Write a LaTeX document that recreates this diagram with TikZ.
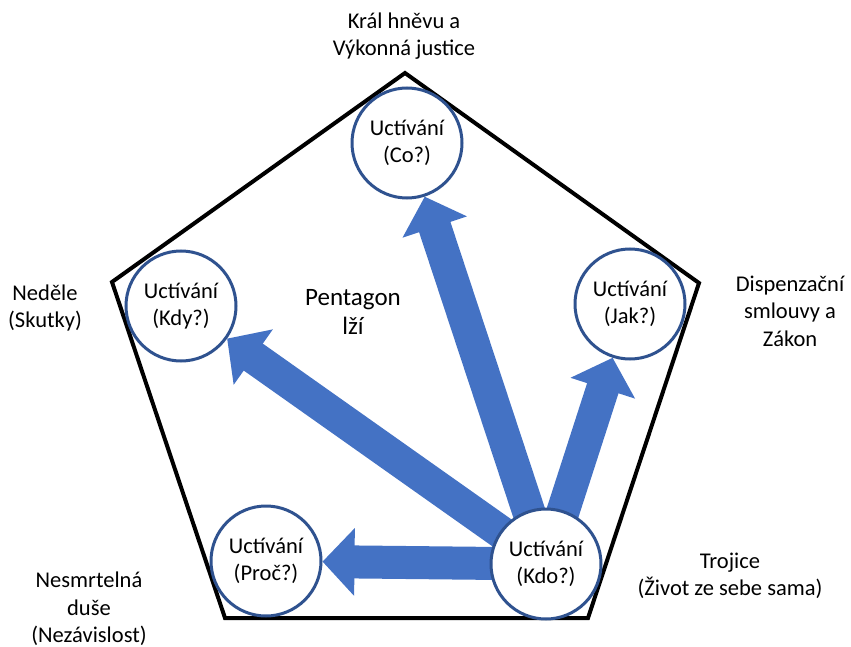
\documentclass[tikz,border=0pt]{standalone}
\usepackage{fontspec}
\setmainfont{Carlito}
\usetikzlibrary{arrows.meta,positioning,backgrounds,calc}
\definecolor{wblue}{RGB}{68,114,196}
\definecolor{wline}{RGB}{47,82,143}
\newcommand{\crad}{110pt}
\newcommand{\wnode}[3]{
  \node [wcirc] (#3) at #1 {Uctívání\\(#2)};
}
\newcommand{\marrow}[2]{
  \begin{scope}[on background layer]
    \draw [warrow] (#1.center) -- (#2);
  \end{scope}
}

\begin{document}
\begin{tikzpicture}[x=1pt,y=-1pt,
  wcirc/.style={circle,draw=wline,line width=3pt,fill=white,minimum size=\crad,
    inner sep=0pt,align=center,font=\fontsize{22.5}{27.5}\selectfont},
  wlabel/.style={align=center,font=\fontsize{22.5}{27.5}\selectfont},
  warrow/.style={wblue,line width=33pt,-{Triangle[length=32pt,width=66pt]}}]
  \useasboundingbox (0,0) rectangle (851,647);

  % the pentagon
  \begin{scope}[on background layer]
    \draw [line width=4pt,miter limit=10] (405,73) -- (699,283) -- (588,618)
      -- (225,618) -- (112,282) -- cycle;
  \end{scope}
  \node [align=center,font=\fontsize{25}{29}\selectfont] (pent) at (353,312) {Pentagon\\lží};

  \wnode{(407,143)}{Co?}{co}
  \wnode{(181,306)}{Kdy?}{kdy}
  \wnode{(630,304)}{Jak?}{jak}
  \wnode{(266,561)}{Proč?}{proc}
  \wnode{(546,564)}{Kdo?}{kdo}

  \marrow{kdo}{co}
  \marrow{kdo}{kdy}
  \marrow{kdo}{jak}
  \marrow{kdo}{proc}

  % outer labels
  \node [wlabel] (kral) at (404,36) {Král hněvu a\\Výkonná justice};
  \node [wlabel] (ned) at (45,308) {Neděle\\(Skutky)};
  \node [wlabel] (disp) at (790,311) {Dispenzační\\smlouvy a\\Zákon};
  \node [wlabel] (troj) at (730,576) {Trojice\\(Život ze sebe sama)};
  \node [wlabel] (nesm) at (89,609) {Nesmrtelná\\duše\\(Nezávislost)};
\end{tikzpicture}
\end{document}
